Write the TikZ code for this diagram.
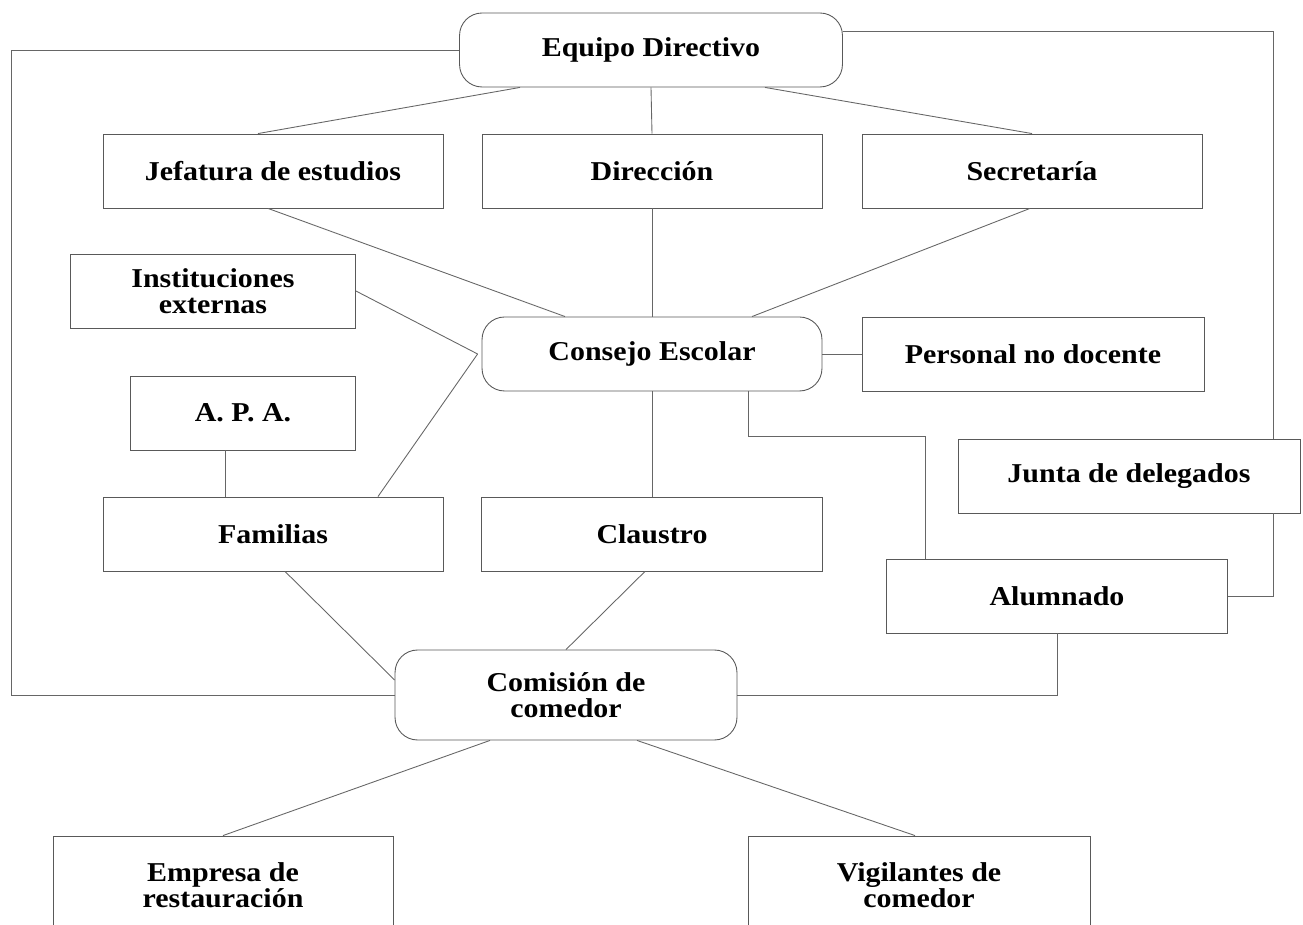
\documentclass[tikz,border=0pt]{standalone}
\usepackage{fontspec}
\setmainfont{Liberation Serif}[FakeStretch=1.1]
\usepackage{tikz}

\tikzset{
  box/.style={draw=black!65, line width=0.5pt, fill=white, align=center,
    minimum width=6.8cm, minimum height=1.48cm, inner sep=2pt,
    font=\fontsize{15.5}{15}\selectfont\bfseries},
  rbox/.style={box, rounded corners=0.45cm},
  link/.style={draw=black!60, line width=0.5pt}
}

\begin{document}
\begin{tikzpicture}[x=0.02cm, y=-0.02cm]
        \useasboundingbox (0, 0) rectangle (1303, 925);
        \clip (0, 0) rectangle (1303, 925);

        % top level
        \draw (651, 50) node[rbox, minimum width=7.66cm] (equipo) {Equipo Directivo};
        \draw (273, 171) node[box] (jefatura) {Jefatura de estudios};
        \draw (652, 171) node[box] (direccion) {Dirección};
        \draw (1032, 171) node[box] (secretaria) {Secretaría};

        % middle
        \draw (213, 291) node[box, minimum width=5.7cm] (instituciones) {Instituciones\\externas};
        \draw (652, 354) node[rbox] (consejo) {Consejo Escolar};
        \draw (1033, 354) node[box, minimum width=6.84cm] (personal) {Personal no docente};
        \draw (243, 413) node[box, minimum width=4.5cm] (apa) {A. P. A.};
        \draw (1129, 476) node[box, minimum width=6.84cm] (junta) {Junta de delegados};
        \draw (273, 534) node[box] (familias) {Familias};
        \draw (652, 534) node[box, minimum width=6.82cm] (claustro) {Claustro};
        \draw (1057, 596) node[box, minimum width=6.82cm] (alumnado) {Alumnado};

        % bottom
        \draw (566, 695) node[rbox, minimum width=6.84cm, minimum height=1.8cm] (comision) {Comisión de\\comedor};
        \draw (223, 885) node[box, minimum height=1.96cm] (empresa) {Empresa de\\restauración};
        \draw (919, 885) node[box, minimum width=6.84cm, minimum height=1.96cm] (vigilantes) {Vigilantes de\\comedor};

        % links from the top
        \draw[link] ([xshift=-2.62cm]equipo.south) -- ([xshift=-0.3cm]jefatura.north);
        \draw[link] (equipo.south) -- (direccion.north);
        \draw[link] ([xshift=2.28cm]equipo.south) -- (secretaria.north);
        \draw[link] (equipo.west) -- ++(-448, 0) |- (comision.west);
        \draw[link] ([yshift=0.38cm]equipo.east) -| ([xshift=2.88cm]junta.north);
        \draw[link] ([xshift=2.88cm]junta.south) |- (alumnado.east);

        \draw[link] ([xshift=-0.1cm]jefatura.south) -- ([xshift=-1.74cm]consejo.north);
        \draw[link] (direccion.south) -- (consejo.north);
        \draw[link] ([xshift=-0.04cm]secretaria.south) -- ([xshift=2cm]consejo.north);

        % around the Consejo
        \draw[link] (instituciones.east) -- ([xshift=-0.08cm]consejo.west);
        \draw[link] ([xshift=2.1cm]familias.north) -- ([xshift=-0.08cm]consejo.west);
        \draw[link] ([xshift=-0.36cm]apa.south) -- ([xshift=-0.36cm]apa.south |- familias.north);
        \draw[link] (consejo.east) -- (personal.west);
        \draw[link] (consejo.south) -- (claustro.north);
        \draw[link] ([xshift=1.92cm]consejo.south) -- ++(0, 45) -| ([xshift=-2.64cm]alumnado.north);

        % to the Comision
        \draw[link] ([xshift=0.24cm]familias.south) -- ([yshift=0.3cm]comision.west);
        \draw[link] ([xshift=-0.14cm]claustro.south) -- (comision.north);
        \draw[link] (comision.east) -| (alumnado.south);
        \draw[link] ([xshift=-1.52cm]comision.south) -- (empresa.north);
        \draw[link] ([xshift=1.42cm]comision.south) -- ([xshift=-0.08cm]vigilantes.north);
    \end{tikzpicture}
\end{document}
